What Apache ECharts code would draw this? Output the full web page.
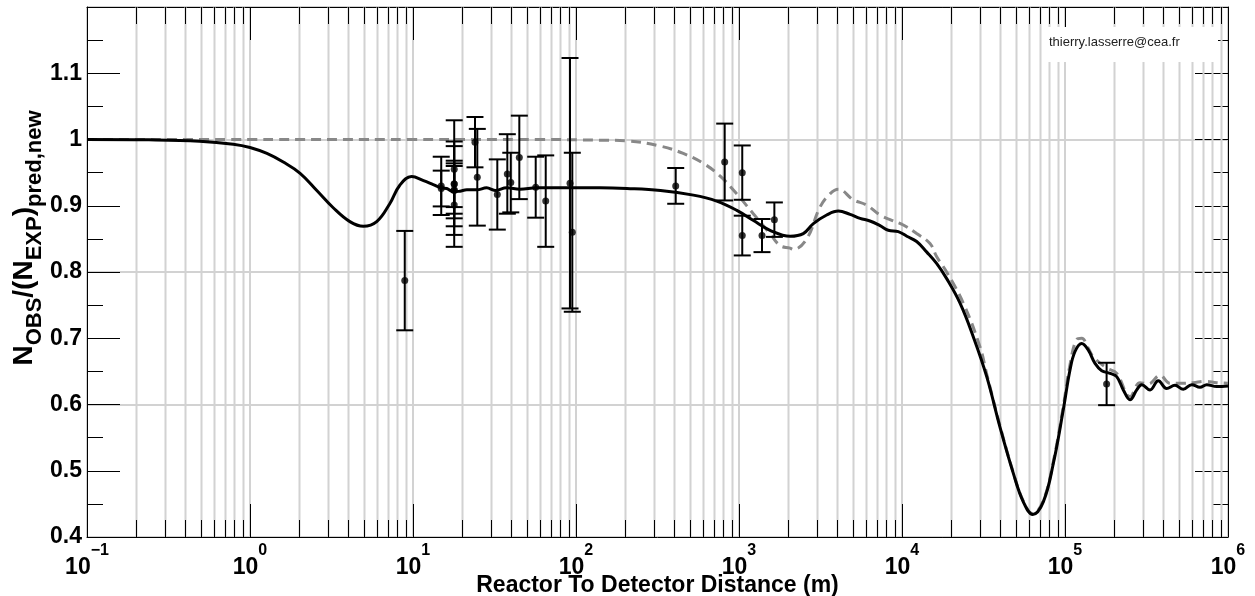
<!DOCTYPE html>
<html><head><meta charset="utf-8">
<script src="https://cdn.jsdelivr.net/npm/echarts@6/dist/echarts.min.js"></script>
<style>html,body{margin:0;padding:0;background:#fff}#c{width:1255px;height:596px}</style>
</head><body><div id="c"></div>
<script>
// ---- data ----
const expDistance = [8.9, 14.9, 14.9, 17.9, 17.9, 17.9, 17.9, 17.9, 17.9, 24.0, 24.8, 32.9, 37.9, 39.8, 44.9, 56.6, 65.2, 91.9, 94.9, 409, 817, 1047, 1047, 1384, 1648, 180000];
const expRatio = [0.787, 0.930, 0.926, 0.955, 0.933, 0.933, 0.923, 0.924, 0.901, 0.996, 0.943, 0.917, 0.948, 0.935, 0.973, 0.928, 0.907, 0.934, 0.860, 0.930, 0.966, 0.950, 0.855, 0.855, 0.879, 0.631];
const expError = [0.075, 0.044, 0.027, 0.074, 0.064, 0.035, 0.067, 0.036, 0.063, 0.038, 0.073, 0.053, 0.060, 0.045, 0.063, 0.046, 0.069, 0.189, 0.120, 0.027, 0.058, 0.041, 0.030, 0.025, 0.026, 0.032];

const fitDistance = [0.1,0.24,0.49,0.79,1.0,1.27,1.6,2.03,2.57,3.24,4.1,4.96,5.99,7.2,8.3,9.8,11.6,13.3,14.9,16.1,17.8,19.4,21.4,24.6,28.3,31.9,37.6,45.3,57.4,80,140,205,330,525,730,970,1220,1550,2060,2480,2860,3450,4070,4800,5530,6360,7330,8240,9490,10700,12300,14200,16300,18800,22700,27400,33100,39900,48200,55500,63400,73600,84800,97600,107300,115200,126600,139000,152800,168000,188900,207600,227900,250500,275400,295500,332300,373600,420600,473000,531800,598800,673200,740300,852400,1000000];
const fitRatio = [1.000,0.9995,0.9975,0.993,0.988,0.979,0.966,0.949,0.923,0.897,0.876,0.869,0.876,0.903,0.931,0.944,0.938,0.932,0.927,0.926,0.921,0.922,0.924,0.924,0.927,0.923,0.927,0.925,0.927,0.927,0.927,0.926,0.923,0.916,0.907,0.893,0.878,0.863,0.854,0.858,0.873,0.886,0.892,0.887,0.881,0.877,0.870,0.863,0.861,0.854,0.846,0.830,0.813,0.790,0.753,0.702,0.642,0.566,0.496,0.453,0.434,0.453,0.511,0.592,0.652,0.680,0.692,0.682,0.662,0.651,0.647,0.642,0.622,0.607,0.622,0.630,0.622,0.636,0.624,0.629,0.623,0.630,0.626,0.630,0.627,0.628];

const noOscDistance = [0.1,1,10,60,140,205,330,455,604,764,968,1224,1550,1784,2056,2154,2602,3140,3616,4067,5025,6072,7328,8647,10185,12300,14850,16330,18800,23770,30100,33100,39900,48200,55500,63400,73600,84800,97600,107300,118000,126600,139000,149100,180300,207600,250500,288500,324300,382600,440900,507600,610000,722500,852400,1000000];
const noOscRatio = [1,1,1,1,0.999,0.998,0.990,0.979,0.964,0.945,0.918,0.888,0.858,0.840,0.836,0.834,0.850,0.898,0.918,0.925,0.909,0.901,0.886,0.878,0.871,0.858,0.843,0.823,0.800,0.753,0.687,0.646,0.568,0.497,0.454,0.435,0.455,0.514,0.597,0.660,0.698,0.700,0.685,0.672,0.655,0.647,0.612,0.633,0.631,0.644,0.632,0.632,0.633,0.635,0.633,0.632];

const xDecadeExponents = [-1, 0, 1, 2, 3, 4, 5, 6];
const yTickLabels = ['0.4', '0.5', '0.6', '0.7', '0.8', '0.9', '1', '1.1'];
const minorMultipliers = [2, 3, 4, 5, 6, 7, 8, 9];
const creditText = 'thierry.lasserre@cea.fr';

// ---- build ----
const FONT = '"Liberation Sans", Arial, Helvetica, sans-serif';
const Y_MIN = 0.4, Y_MAX = 1.2;
const minorTickValues = [];
for (let i = 0; i < xDecadeExponents.length - 1; i++) {
  for (const m of minorMultipliers) minorTickValues.push([m * Math.pow(10, xDecadeExponents[i]), Y_MIN]);
}
const pairs = (xs, ys) => xs.map((x, i) => [x, ys[i]]);
const errData = expDistance.map((d, i) => [d, expRatio[i] - expError[i], expRatio[i] + expError[i]]);

const black = '#000';
const gridGray = '#d2d2d2';

const chart = echarts.init(document.getElementById('c'), null, { renderer: 'canvas' });
const yTickCommon = {
  type: 'value', min: Y_MIN, max: Y_MAX, interval: 0.1,
  axisLine: { show: true, onZero: false, lineStyle: { color: black, width: 1 } },
  axisTick: { show: true, inside: true, length: 33, lineStyle: { color: black, width: 1 } },
  minorTick: { show: true, splitNumber: 2, length: 16, lineStyle: { color: black, width: 1 } },
  splitLine: { show: false }
};
chart.setOption({
  animation: false,
  backgroundColor: '#fff',
  grid: { left: 87, right: 27, top: 7, bottom: 59, show: false, containLabel: false, outerBoundsMode: 'none' },
  xAxis: [
    {
      type: 'log', logBase: 10, min: 0.1, max: 1e6, position: 'bottom',
      axisLine: { show: true, onZero: false, lineStyle: { color: black, width: 1 } },
      axisTick: { show: true, inside: true, length: 33, lineStyle: { color: black, width: 1 } },
      splitLine: { show: true, lineStyle: { color: gridGray, width: 2 } },
      axisLabel: {
        show: true, margin: 6, showMinLabel: true, showMaxLabel: true, hideOverlap: false,
        formatter: v => {
          const e = Math.round(Math.log10(v));
          if (!xDecadeExponents.includes(e)) return '';
          return '{b|10}{e|' + (e < 0 ? '\u2212' + (-e) : String(e)) + '}';
        },
        rich: {
          b: { fontFamily: FONT, fontWeight: 'bold', fontSize: 23, color: black, lineHeight: 36, verticalAlign: 'bottom' },
          e: { fontFamily: FONT, fontWeight: 'bold', fontSize: 16, color: black, lineHeight: 16, verticalAlign: 'top' }
        }
      },
      name: 'Reactor To Detector Distance (m)', nameLocation: 'middle', nameGap: 37, nameMoveOverlap: false,
      nameTextStyle: { fontFamily: FONT, fontWeight: 'bold', fontSize: 23, color: black, verticalAlign: 'top' }
    },
    {
      type: 'log', logBase: 10, min: 0.1, max: 1e6, position: 'top',
      axisLine: { show: true, onZero: false, lineStyle: { color: black, width: 1 } },
      axisTick: { show: true, inside: true, length: 33, lineStyle: { color: black, width: 1 } },
      axisLabel: { show: false }, splitLine: { show: false }
    }
  ],
  yAxis: [
    Object.assign({}, yTickCommon, {
      position: 'left',
      axisLabel: {
        show: true, margin: 5, fontFamily: FONT, fontWeight: 'bold', fontSize: 23, color: black,
        showMinLabel: true, hideOverlap: false,
        formatter: v => { const i = Math.round((v - Y_MIN) * 10); return yTickLabels[i] !== undefined ? yTickLabels[i] : ''; }
      }
    }),
    Object.assign({}, yTickCommon, { position: 'right', axisLabel: { show: false } }),
    {
      type: 'value', min: Y_MIN, max: Y_MAX, interval: 0.2, position: 'left',
      axisLine: { show: false }, axisTick: { show: false }, axisLabel: { show: false },
      splitLine: { show: true, lineStyle: { color: gridGray, width: 2 } }
    }
  ],
  series: [
    {
      type: 'custom', name: 'minor grid', silent: true, z: 1,
      xAxisIndex: 0, yAxisIndex: 0, data: minorTickValues, encode: { x: 0, y: 1 },
      renderItem: (params, api) => {
        const v = api.value(0);
        const b = api.coord([v, Y_MIN]);
        const t = api.coord([v, Y_MAX]);
        const x = Math.round(b[0]) + 0.5;
        return {
          type: 'group', children: [
            { type: 'line', shape: { x1: x, y1: b[1], x2: x, y2: t[1] }, style: { stroke: gridGray, lineWidth: 2 } },
            { type: 'line', shape: { x1: x, y1: b[1], x2: x, y2: b[1] - 17 }, style: { stroke: black, lineWidth: 1 } },
            { type: 'line', shape: { x1: x, y1: t[1], x2: x, y2: t[1] + 17 }, style: { stroke: black, lineWidth: 1 } }
          ]
        };
      }
    },
    {
      type: 'line', name: 'no oscillation', data: pairs(noOscDistance, noOscRatio),
      showSymbol: false, smooth: 0.4, z: 3,
      lineStyle: { color: '#888888', width: 3, type: [10, 6] }
    },
    {
      type: 'line', name: 'fit', data: pairs(fitDistance, fitRatio),
      showSymbol: false, smooth: 0.4, z: 4,
      lineStyle: { color: black, width: 3 }
    },
    {
      type: 'custom', name: 'errors', z: 5, data: errData, encode: { x: 0, y: [1, 2] },
      renderItem: (params, api) => {
        const d = api.value(0);
        const lo = api.coord([d, api.value(1)]);
        const hi = api.coord([d, api.value(2)]);
        const hw = 8.5;
        const st = { stroke: black, lineWidth: 2 };
        return {
          type: 'group', children: [
            { type: 'line', shape: { x1: lo[0], y1: lo[1], x2: hi[0], y2: hi[1] }, style: st },
            { type: 'line', shape: { x1: lo[0] - hw, y1: lo[1], x2: lo[0] + hw, y2: lo[1] }, style: st },
            { type: 'line', shape: { x1: hi[0] - hw, y1: hi[1], x2: hi[0] + hw, y2: hi[1] }, style: st }
          ]
        };
      }
    },
    {
      type: 'scatter', name: 'data', z: 6, data: pairs(expDistance, expRatio),
      symbol: 'circle', symbolSize: 7, itemStyle: { color: black }
    }
  ],
  graphic: [
    {
      type: 'text', x: 28, y: 238, rotation: Math.PI / 2, z: 10,
      style: {
        text: '{n|N}{s|OBS}{n|/(N}{s|EXP}{n|)}{s|pred,new}',
        align: 'center', verticalAlign: 'middle',
        rich: {
          n: { fontFamily: FONT, fontWeight: 'bold', fontSize: 28, fill: black, lineHeight: 28, verticalAlign: 'top' },
          s: { fontFamily: FONT, fontWeight: 'bold', fontSize: 22, fill: black, lineHeight: 35, verticalAlign: 'bottom' }
        }
      }
    },
    { type: 'rect', shape: { x: 1043, y: 27, width: 175, height: 35 }, style: { fill: '#fff' }, z: 10 },
    {
      type: 'text', x: 1049, y: 42, z: 11,
      style: { text: creditText, fontFamily: FONT, fontSize: 13, fill: '#222', verticalAlign: 'middle', align: 'left' }
    }
  ]
});
</script>
</body></html>
